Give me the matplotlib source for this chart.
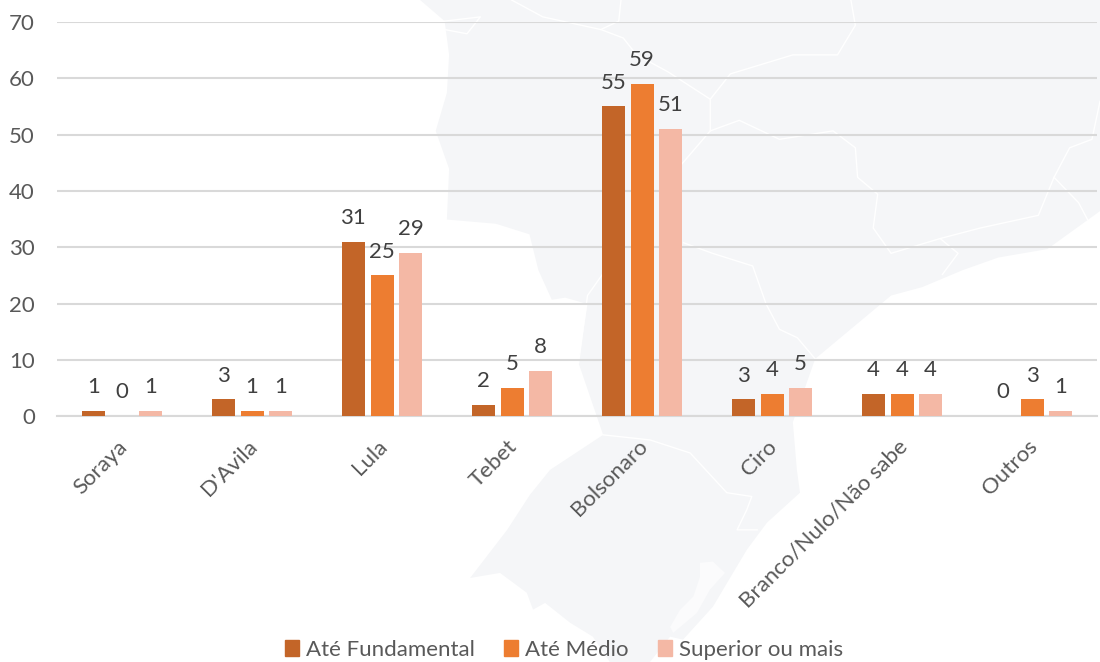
"""Intencao de voto por escolaridade, com o mapa ao fundo"""

import matplotlib
matplotlib.use("Agg")
from matplotlib import pyplot as plt
from matplotlib.patches import Patch, Polygon
from matplotlib.transforms import ScaledTranslation
import numpy as np

categories = ["Soraya", "D'Avila", "Lula", "Tebet", "Bolsonaro", "Ciro",
              "Branco/Nulo/Não sabe", "Outros"]
ate_fundamental = [1, 3, 31, 2, 55, 3, 4, 0]
ate_medio = [0, 1, 25, 5, 59, 4, 4, 3]
superior = [1, 1, 29, 8, 51, 5, 4, 1]
y_ticks = [0, 10, 20, 30, 40, 50, 60, 70]

# background map, traced by eye (x, y in map units, see map_ax limits)
map_outline = [(45, 0), (100, 50), (110, 130), (105, 220), (80, 310), (110, 400), (105, 520),
               (215, 530), (290, 555), (310, 640), (340, 710), (370, 705), (420, 720),
               (400, 860), (455, 1030), (336, 1113), (291, 1172), (240, 1255), (157, 1369),
               (224, 1357), (284, 1404), (298, 1444), (325, 1428), (381, 1475), (432, 1508),
               (470, 1568), (560, 1568), (605, 1508), (634, 1515), (701, 1437), (746, 1357),
               (777, 1302), (822, 1238), (896, 1167), (889, 1113), (880, 1000),
               (930, 850), (1100, 700), (1170, 680), (1260, 640), (1340, 610), (1450, 590),
               (1568, 500), (1568, 0)]
map_borders = [
    [(250, 0), (320, 40), (450, 70), (500, 90), (530, 130), (600, 170), (695, 235), (740, 175),
     (880, 130), (980, 130), (1020, 60), (1010, 0)],
    [(495, 0), (490, 50), (450, 70)],
    [(100, 50), (180, 40), (150, 80), (100, 70)],
    [(630, 390), (695, 310), (695, 235)],
    [(695, 310), (760, 285), (850, 330), (970, 310), (1020, 350), (1025, 420), (1070, 460),
     (1060, 540), (1100, 600), (1210, 565), (1250, 600), (1215, 650)],
    [(1210, 565), (1300, 540), (1430, 510), (1465, 420), (1500, 350), (1550, 330), (1568, 240)],
    [(1465, 420), (1520, 480), (1540, 520)],
    [(635, 575), (700, 600), (790, 630), (820, 720), (850, 780), (890, 800), (930, 850)],
    [(455, 1030), (560, 1042), (650, 1073), (732, 1167), (788, 1176), (777, 1207), (755, 1255),
     (800, 1255)],
    [(400, 860), (420, 700), (460, 640)],
]
map_lagoon = [(672, 1333), (701, 1330), (728, 1357), (694, 1397), (665, 1452), (612, 1499),
              (605, 1485), (627, 1445), (657, 1413), (672, 1366)]

plt.rcParams["font.family"] = ["Lato", "DejaVu Sans"]

fig = plt.figure(figsize=(11, 6.62), dpi=100)

# Map behind everything
map_ax = fig.add_axes([0, 0, 1, 1], zorder=0)
map_ax.set_xlim(-896, 1568)
map_ax.set_ylim(1568, 0)
map_ax.axis("off")
map_ax.add_patch(Polygon(map_outline, closed=True, fc="#F5F6F8", ec="none"))
map_ax.add_patch(Polygon(map_lagoon, closed=True, fc="#FBFBFC", ec="none"))
for border in map_borders:
    xs, ys = zip(*border)
    map_ax.plot(xs, ys, color="#FFFFFF", lw=1.0)

# Chart
ax = fig.add_axes([57 / 1100, 1 - 416.3 / 662, 1040 / 1100, 394.3 / 662], zorder=1)
ax.patch.set_visible(False)

x = np.arange(len(categories))
bar_width = 23 / 130
step = 28.7 / 130
series = [
    (ate_fundamental, "#C36528", "Até Fundamental"),
    (ate_medio, "#ED7D31", "Até Médio"),
    (superior, "#F4B8A5", "Superior ou mais"),
]
for i, (values, color, label) in enumerate(series):
    bars = ax.bar(x + (i - 1) * step, values, bar_width, color=color, label=label, zorder=3)
    ax.bar_label(bars, padding=10, fontsize=16, color="#404040")

ax.set_xlim(-0.5, len(categories) - 0.5)
ax.set_ylim(0, 70)
ax.set_yticks(y_ticks)
ax.set_xticks(x)
ax.set_xticklabels(categories, rotation=45, ha="right", rotation_mode="anchor")
ax.tick_params(axis="both", length=0, labelsize=16, labelcolor="#595959")
ax.tick_params(axis="x", pad=13)
ax.tick_params(axis="y", pad=16)
# nudge the slanted labels a bit to the left and down
offset = ScaledTranslation(-0.05, -0.02, fig.dpi_scale_trans)
for tick_label in ax.get_xticklabels():
    tick_label.set_transform(tick_label.get_transform() + offset)
ax.grid(axis="y", color="#D9D9D9", lw=1.5, zorder=1)
ax.set_axisbelow(True)
for side in ["top", "right", "left"]:
    ax.spines[side].set_visible(False)
ax.spines["bottom"].set_color("#D9D9D9")
ax.spines["bottom"].set_linewidth(1.5)

handles = [Patch(color=color, label=label) for _, color, label in series]
fig.legend(handles=handles, loc="center", bbox_to_anchor=(564 / 1100, 1 - 650 / 662),
           ncol=3, frameon=False, fontsize=16, labelcolor="#595959",
           handlelength=0.63, handleheight=0.7, handletextpad=0.3, columnspacing=1.33)

fig.savefig("out.png", dpi=100)
print("done")
